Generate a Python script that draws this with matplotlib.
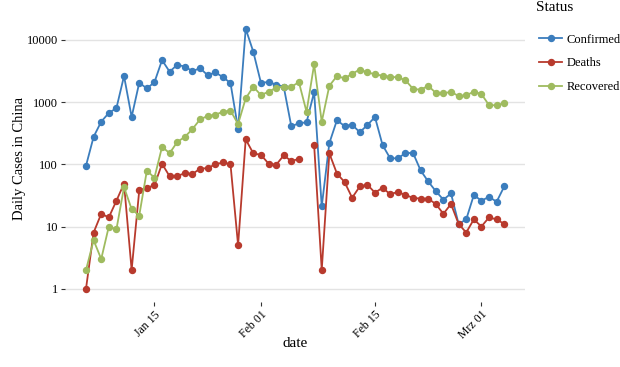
import numpy as np
import pandas as pd
import matplotlib
matplotlib.use("Agg")
import matplotlib.pyplot as plt

# serif font like the reference
plt.rcParams['font.family'] = ['Liberation Serif', 'DejaVu Serif']

# daily values (Jan 23 .. Mar 18, 2020)
dates = pd.date_range('2020-01-23', periods=56, freq='D')

confirmed = [95, 277, 486, 669, 802, 2632, 578, 2054, 1661, 2089,
             4739, 3086, 3991, 3733, 3147, 3523, 2704, 3015, 2525, 2032,
             373, 15136, 6463, 2055, 2100, 1921, 1777, 408, 458, 473,
             1451, 21, 219, 513, 412, 434, 328, 428, 576, 204,
             125, 125, 151, 153, 80, 53, 37, 27, 34, 11,
             13, 32, 26, 30, 25, 44]

deaths = [1, 8, 16, 14, 26, 49, 2, 38, 42, 46,
          102, 64, 65, 72, 70, 85, 87, 100, 107, 100,
          5, 252, 150, 142, 103, 98, 139, 113, 122, np.nan,
          205, 2, 150, 71, 52, 29, 44, 47, 35, 42,
          33, 36, 32, 29, 28, 28, 23, 16, 23, 11,
          8, 13, 10, 14, 13, 11]

recovered = [2, 6, 3, 10, 9, 43, 19, 15, 79, 61,
             191, 151, 229, 276, 370, 528, 600, 628, 700, 730,
             445, 1150, 1770, 1300, 1470, 1700, 1770, 1770, 2090, 700,
             4050, 484, 1830, 2630, 2410, 2850, 3350, 3000, 2820, 2650,
             2560, 2500, 2260, 1640, 1580, 1830, 1410, 1380, 1470, 1250,
             1290, 1470, 1350, 895, 890, 960]

series_names = ['Confirmed', 'Deaths', 'Recovered']
colors = ['#3b7dbd', '#b83a2d', '#9fbb5f']

tick_dates = pd.to_datetime(['2020-02-01', '2020-02-15', '2020-03-01', '2020-03-15'])
tick_labels = ['Jan 15', 'Feb 01', 'Feb 15', 'Mrz 01']
y_ticks = [1, 10, 100, 1000, 10000]

fig = plt.figure(figsize=(6.2, 3.67), dpi=100)
ax = fig.add_axes([0.105, 0.178, 0.742, 0.779])

for name, vals, c in zip(series_names, [confirmed, deaths, recovered], colors):
    ax.plot(dates, vals, '-o', color=c, lw=1.3, ms=4.3, label=name)

ax.set_yscale('log')
ax.set_yticks(y_ticks)
ax.set_yticklabels([str(v) for v in y_ticks])
ax.minorticks_off()

# ggplot-like expansion of 5 %
lo, hi = np.log10(1), np.log10(15136)
pad = 0.05 * (hi - lo)
ax.set_ylim(10 ** (lo - pad), 10 ** (hi + pad))
span = dates[-1] - dates[0]
ax.set_xlim(dates[0] - span * 0.05, dates[-1] + span * 0.05)

ax.set_xticks(tick_dates)
ax.set_xticklabels(tick_labels, rotation=45, ha='right', va='top',
                   rotation_mode='anchor', fontsize=8.5)

ax.grid(axis='y', color='#e3e3e3', lw=1)
ax.grid(axis='x', visible=False)
ax.set_axisbelow(True)
for s in ax.spines.values():
    s.set_visible(False)
ax.tick_params(axis='both', length=3, width=0.8, color='#333333', pad=2)
ax.tick_params(axis='y', labelsize=9)

ax.set_xlabel('date', fontsize=11, labelpad=-3)
ax.set_ylabel('Daily Cases in China', fontsize=10.5, labelpad=1)

# legend title drawn separately for the wider gap under it
fig.text(0.865, 0.980, 'Status', fontsize=11, ha='left', va='center')
leg = ax.legend(loc='upper left', bbox_to_anchor=(0.868, 0.912),
                bbox_transform=fig.transFigure, frameon=False, fontsize=9,
                handlelength=1.8, handletextpad=0.4,
                labelspacing=0.95, borderpad=0.1, borderaxespad=0)

fig.savefig('out.png', dpi=100)
